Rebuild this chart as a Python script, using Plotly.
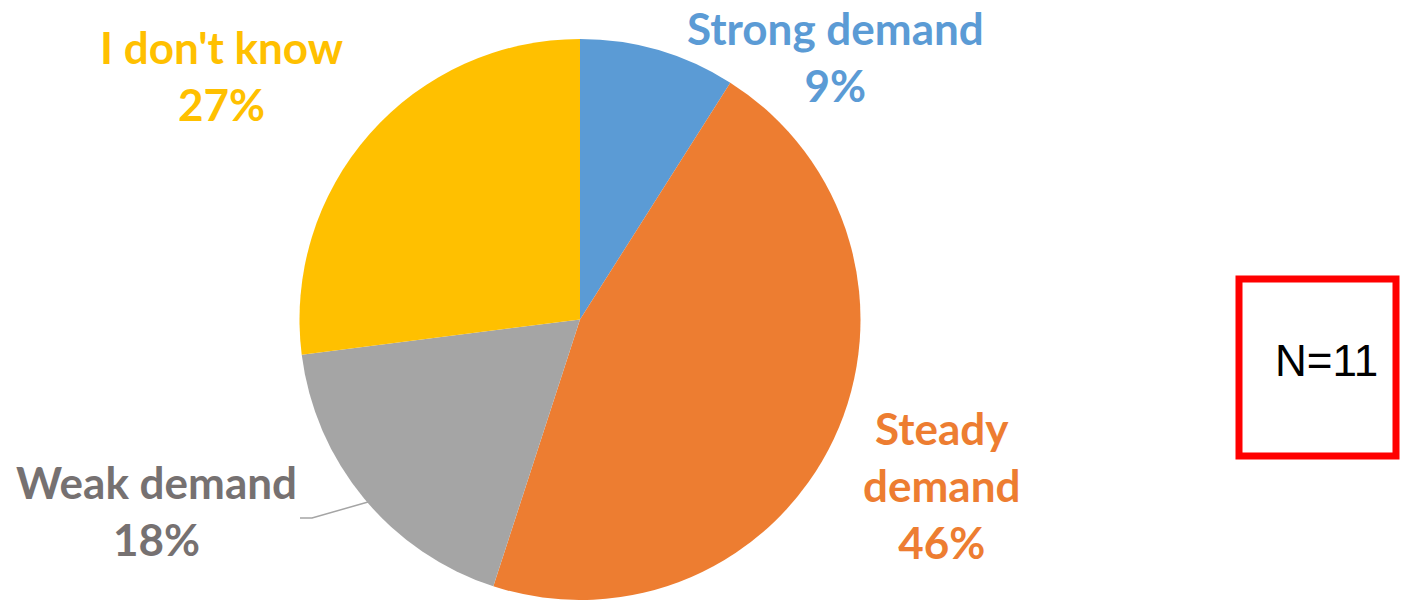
import plotly.graph_objects as go

W, H = 1402, 600

# Survey answers (share of respondents, %)
categories = ["Strong demand", "Steady demand", "Weak demand", "I don't know"]
shares = [9, 46, 18, 27]
slice_colors = ["#5B9BD5", "#ED7D31", "#A5A5A5", "#FFC000"]
label_colors = ["#5B9BD5", "#ED7D31", "#767171", "#FFC000"]
sample_size = 11


def px(x):
    return x / W


def py(y):
    return 1 - y / H


cx, cy, r = 580, 320, 281

fig = go.Figure(
    go.Pie(
        labels=categories,
        values=shares,
        sort=False,
        direction="clockwise",
        rotation=0,
        marker=dict(colors=slice_colors, line=dict(width=0)),
        textinfo="none",
        hoverinfo="label+percent",
        showlegend=False,
        domain=dict(x=[px(cx - r), px(cx + r)], y=[0, py(cy - r)]),
    )
)

label_font = dict(family="Lato, 'Open Sans', sans-serif", size=44)

# Label anchor centres in pixels (first line centre)
label_pos = {
    "Strong demand": (835, 28),
    "Steady demand": (942, 428),
    "Weak demand": (156, 482),
    "I don't know": (221, 47),
}
label_text = {
    "Strong demand": "Strong demand",
    "Steady demand": "Steady<br>demand",
    "Weak demand": "Weak demand",
    "I don't know": "I don't know",
}

for cat, val, col in zip(categories, shares, label_colors):
    x, y = label_pos[cat]
    fig.add_annotation(
        x=px(x), y=py(y - 28), xref="paper", yref="paper",
        xanchor="center", yanchor="top",
        text=f"<b>{label_text[cat]}<br>{val}%</b>",
        showarrow=False, align="center",
        font=dict(color=col, **label_font),
    )

# Leader line for the weak-demand label
fig.add_shape(
    type="path", xref="paper", yref="paper",
    path=f"M {px(300)} {py(518)} L {px(312)} {py(518)} L {px(368)} {py(502)}",
    line=dict(color="#A5A5A5", width=1.5),
)

# Sample-size box
fig.add_shape(
    type="rect", xref="paper", yref="paper",
    x0=px(1239), x1=px(1396), y0=py(279), y1=py(456),
    line=dict(color="#FF0000", width=7),
)
fig.add_annotation(
    x=px(1326), y=py(360), xref="paper", yref="paper",
    xanchor="center", yanchor="middle",
    text=f"N={sample_size}", showarrow=False,
    font=dict(family="Arial, 'Liberation Sans', sans-serif", size=44, color="#000000"),
)

fig.update_layout(
    width=W, height=H,
    margin=dict(l=0, r=0, t=0, b=0),
    paper_bgcolor="#FFFFFF",
    plot_bgcolor="#FFFFFF",
)

fig.write_html("out.html")
